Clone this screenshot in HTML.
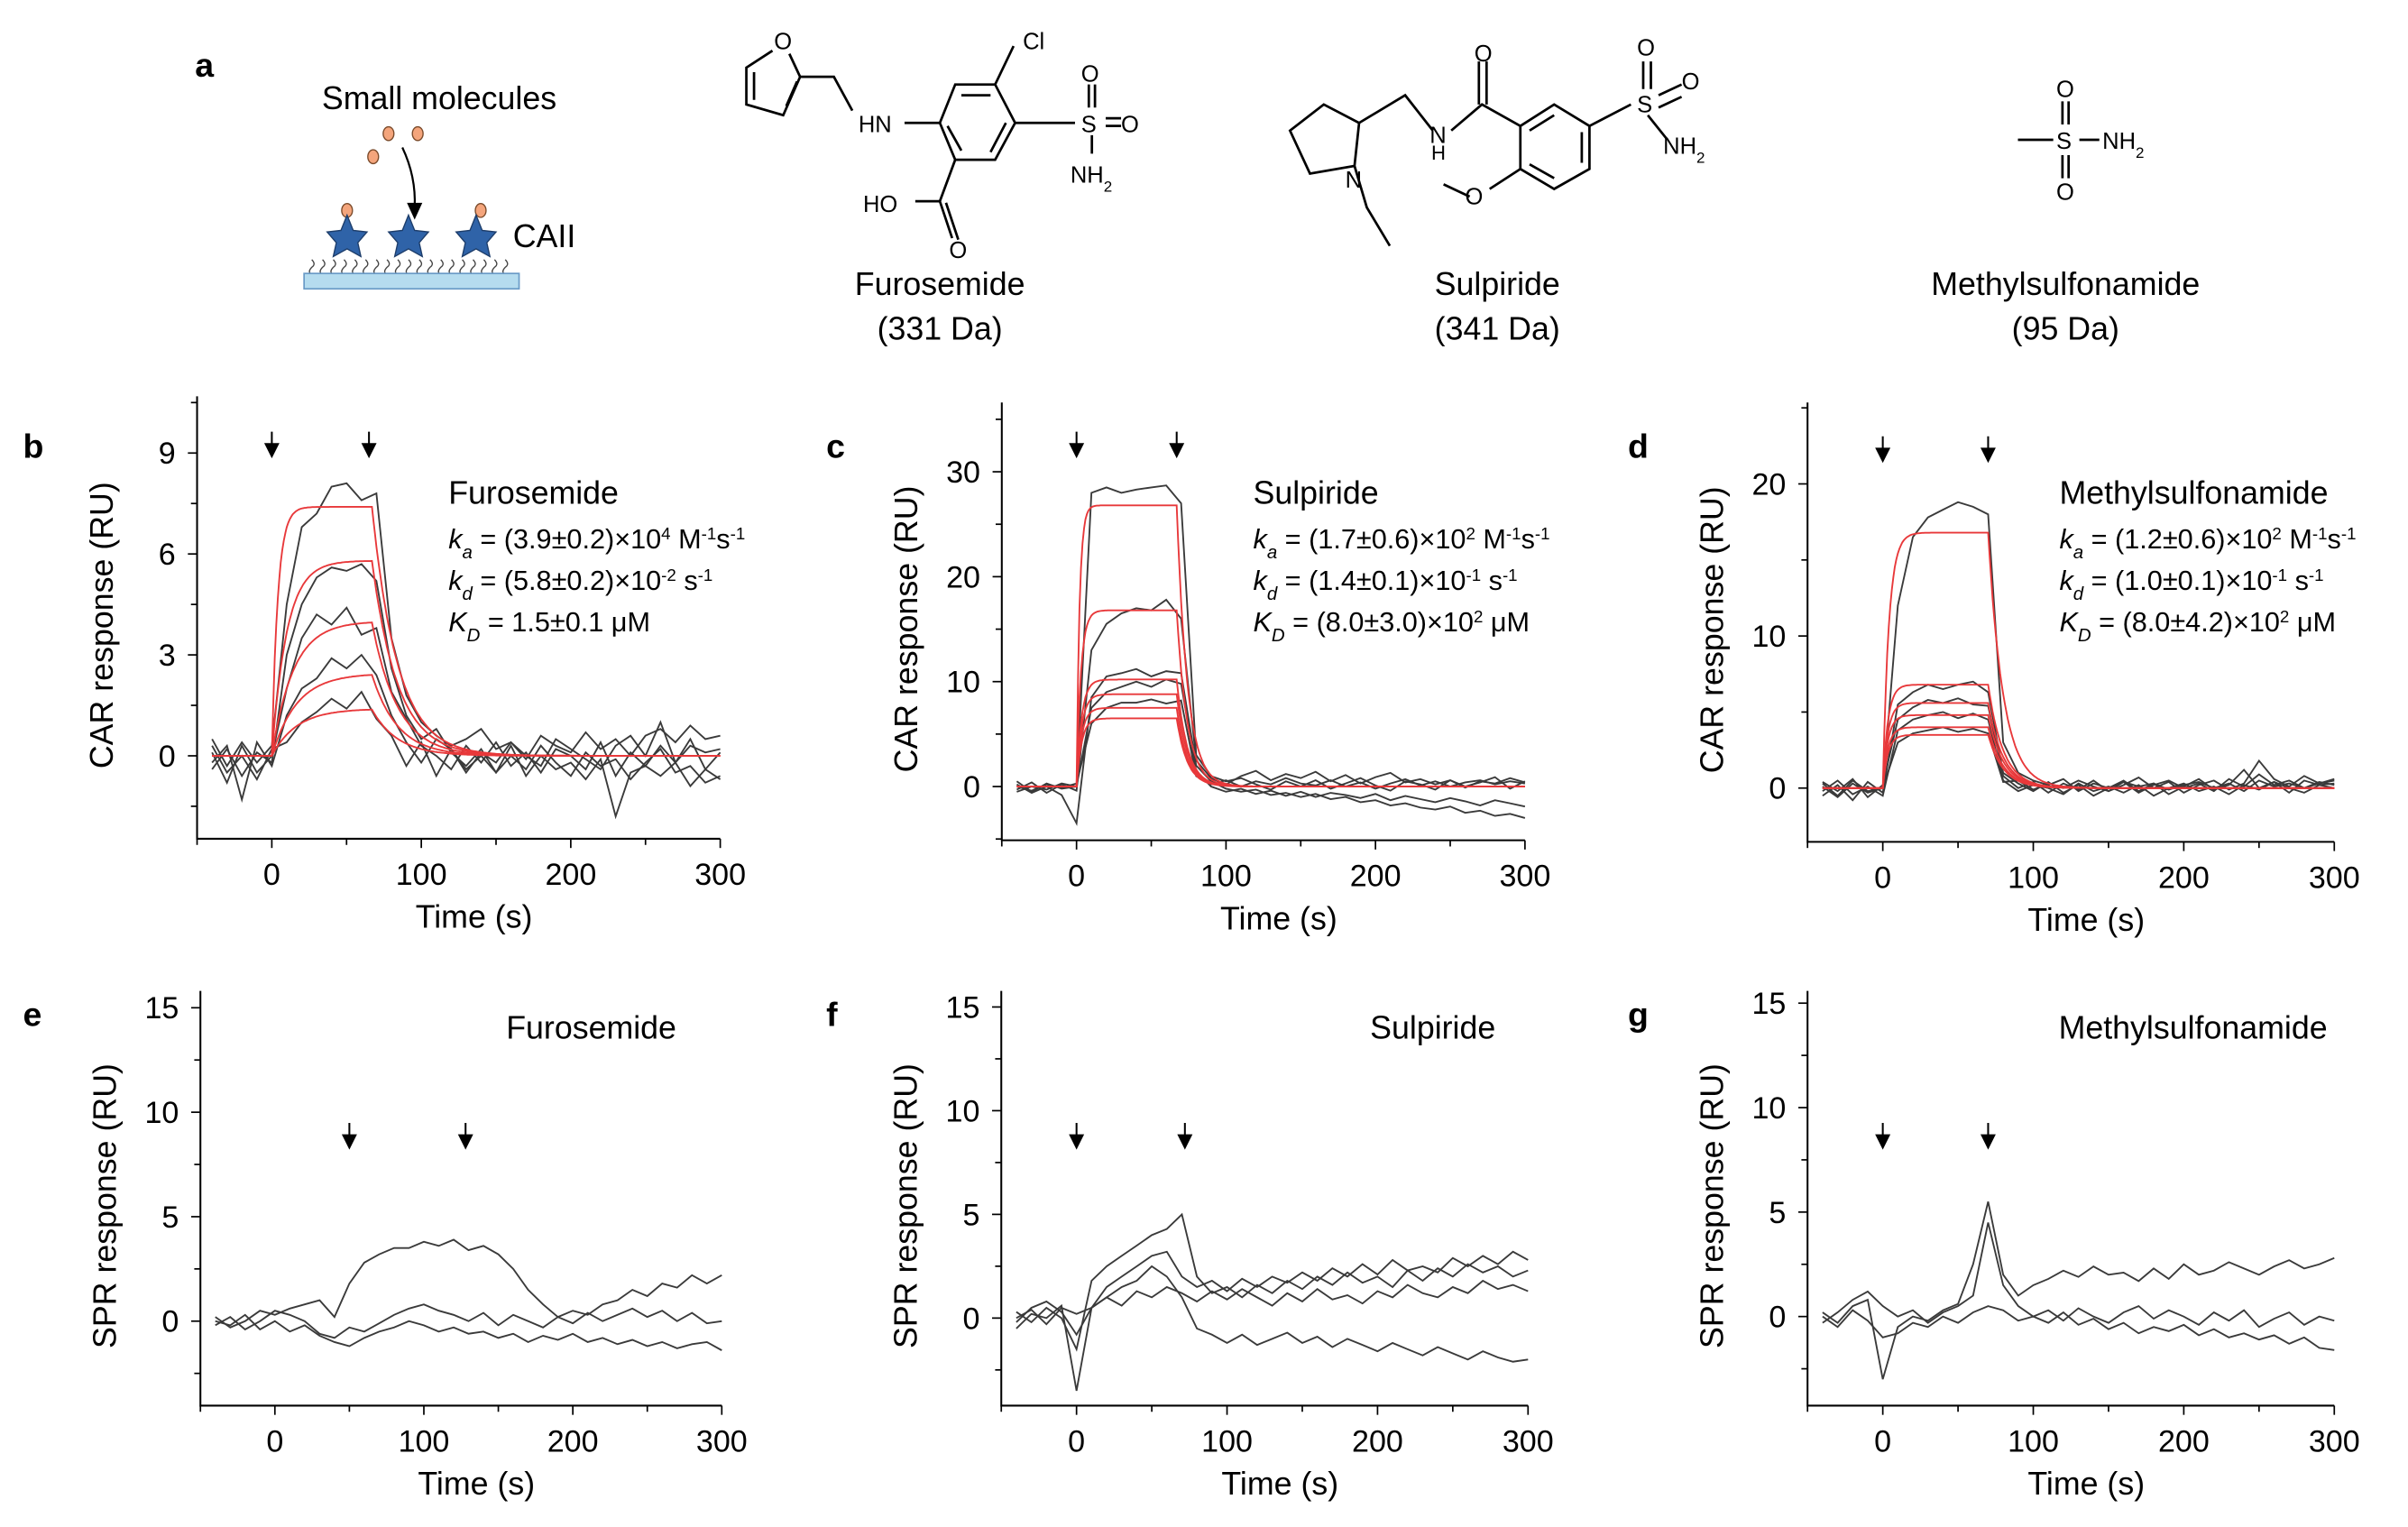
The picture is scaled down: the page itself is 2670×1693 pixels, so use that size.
<!DOCTYPE html>
<html><head><meta charset="utf-8"><style>
html,body{margin:0;padding:0;background:#fff}
svg{display:block}
text{font-family:"Liberation Sans",Arial,sans-serif}
</style></head><body>
<svg id="fig" width="2670" height="1693" viewBox="0 0 1568 994" preserveAspectRatio="none" xmlns="http://www.w3.org/2000/svg">
<g id="panel-a" fill="none" stroke="#000" stroke-width="1.6">
  <text x="127" y="50" font-size="22" font-weight="bold" fill="#000" stroke="none">a</text>
  <text x="286" y="71" font-size="21" text-anchor="middle" fill="#000" stroke="none">Small molecules</text>
  <g fill="#f4a57c" stroke="#7a4a2a" stroke-width="0.8">
    <ellipse cx="253" cy="87" rx="3.5" ry="4.5"/><ellipse cx="272" cy="87" rx="3.5" ry="4.5"/><ellipse cx="243" cy="102" rx="3.5" ry="4.5"/>
    <ellipse cx="226" cy="137" rx="3.5" ry="4.5"/><ellipse cx="313" cy="137" rx="3.5" ry="4.5"/>
  </g>
  <path d="M262 96 Q271 115 270 135" stroke-width="1.3"/>
  <path d="M265 132 L275 132 L270 143 Z" fill="#000" stroke="none"/>
  <g fill="#2f63a8" stroke="#1d3d6a" stroke-width="0.8">
    <path d="M226 140 L230 150 L239 151 L233 158 L235 167 L226 162 L217 167 L219 158 L213 151 L222 150 Z"/>
    <path d="M266 140 L270 150 L279 151 L273 158 L275 167 L266 162 L257 167 L259 158 L253 151 L262 150 Z"/>
    <path d="M310 140 L314 150 L323 151 L317 158 L319 167 L310 162 L301 167 L303 158 L297 151 L306 150 Z"/>
  </g>
  <g stroke="#444" stroke-width="0.8">
    <path d="M203 169 q3 3 0 5 q-3 3 0 5 M210 169 q3 3 0 5 q-3 3 0 5 M217 169 q3 3 0 5 q-3 3 0 5 M224 169 q3 3 0 5 q-3 3 0 5 M231 169 q3 3 0 5 q-3 3 0 5 M238 169 q3 3 0 5 q-3 3 0 5 M245 169 q3 3 0 5 q-3 3 0 5 M252 169 q3 3 0 5 q-3 3 0 5 M259 169 q3 3 0 5 q-3 3 0 5 M266 169 q3 3 0 5 q-3 3 0 5 M273 169 q3 3 0 5 q-3 3 0 5 M280 169 q3 3 0 5 q-3 3 0 5 M287 169 q3 3 0 5 q-3 3 0 5 M294 169 q3 3 0 5 q-3 3 0 5 M301 169 q3 3 0 5 q-3 3 0 5 M308 169 q3 3 0 5 q-3 3 0 5 M315 169 q3 3 0 5 q-3 3 0 5 M322 169 q3 3 0 5 q-3 3 0 5 M329 169 q3 3 0 5 q-3 3 0 5"/>
  </g>
  <rect x="198" y="178" width="140" height="10" fill="#b5dcef" stroke="#6a9bc7" stroke-width="1"/>
  <text x="334" y="161" font-size="21" fill="#000" stroke="none">CAII</text>

  <g>
    <path d="M503 33 L486 44 L486 68 L510 75 L521 50 L514 35 M491 47 L491 65 M512 69 L519 53"/>
    <path d="M521 50 L543 50 L555 72"/>
    <path d="M589 80 L612 80 M612 80 L622 55 L648 55 L661 80 L648 104 L622 104 Z M626 62 L645 62 M655 80 L645 99 M626 98 L617 82"/>
    <path d="M648 55 L660 30 M661 80 L700 80 M622 104 L612 131 L596 131 M612 131 L620 155 M616 132 L624 156"/>
    <path d="M709 55 L709 70 M713 55 L713 70 M720 77 L730 77 M720 82 L730 82 M711 88 L711 100"/>
  </g>
  <g font-size="15" fill="#000" stroke="none">
    <text x="504" y="32">O</text><text x="666" y="32">Cl</text><text x="559" y="86">HN</text>
    <text x="704" y="53">O</text><text x="704" y="86">S</text><text x="730" y="86">O</text><text x="697" y="119">NH<tspan font-size="10" baseline-shift="sub">2</tspan></text>
    <text x="562" y="138">HO</text><text x="618" y="168">O</text>
  </g>
  <text x="612" y="192" font-size="21" text-anchor="middle" fill="#000" stroke="none">Furosemide</text>
  <text x="612" y="221" font-size="21" text-anchor="middle" fill="#000" stroke="none">(331 Da)</text>

  <g>
    <path d="M840 85 L862 68 L885 80 L882 108 L853 113 Z M882 108 L890 135 L905 160 M885 80 L915 62 L933 85"/>
    <path d="M945 85 L965 68 L990 82 M963 68 L963 40 M968 68 L968 40"/>
    <path d="M990 82 L1012 68 L1035 82 L1035 110 L1012 123 L990 110 Z M996 85 L1012 75 M1030 86 L1030 106 M996 107 L1012 116"/>
    <path d="M1035 82 L1062 68 M990 110 L970 123 M957 128 L940 120 M1070 58 L1070 40 M1075 58 L1075 40 M1080 62 L1095 55 M1080 70 L1095 63 M1073 75 L1085 90"/>
  </g>
  <g font-size="15" fill="#000" stroke="none">
    <text x="876" y="122">N</text><text x="931" y="93">N</text><text x="932" y="104" font-size="13">H</text>
    <text x="960" y="40">O</text><text x="954" y="133">O</text><text x="1066" y="73">S</text>
    <text x="1066" y="36">O</text><text x="1095" y="58">O</text><text x="1083" y="100">NH<tspan font-size="10" baseline-shift="sub">2</tspan></text>
  </g>
  <text x="975" y="192" font-size="21" text-anchor="middle" fill="#000" stroke="none">Sulpiride</text>
  <text x="975" y="221" font-size="21" text-anchor="middle" fill="#000" stroke="none">(341 Da)</text>

  <g>
    <path d="M1314 91 L1337 91 M1343 66 L1343 81 M1347 66 L1347 81 M1343 101 L1343 116 M1347 101 L1347 116 M1354 91 L1367 91"/>
  </g>
  <g font-size="15" fill="#000" stroke="none">
    <text x="1339" y="63">O</text><text x="1339" y="97">S</text><text x="1339" y="130">O</text><text x="1369" y="97">NH<tspan font-size="10" baseline-shift="sub">2</tspan></text>
  </g>
  <text x="1345" y="192" font-size="21" text-anchor="middle" fill="#000" stroke="none">Methylsulfonamide</text>
  <text x="1345" y="221" font-size="21" text-anchor="middle" fill="#000" stroke="none">(95 Da)</text>
</g>
<g id="charts"></g>
</svg>
<script>
// ---------- data ----------
const times = [-40,-30,-20,-10,0,10,20,30,40,50,60,70,80,90,100,110,120,130,140,150,160,170,180,190,200,210,220,230,240,250,260,270,280,290,300];

const tracesB = [
 [0.5,-0.3,0.4,-0.2,0.3,4.5,6.8,7.2,8.0,8.1,7.6,7.8,3.5,1.8,1.0,0.6,0.3,0.5,0.8,0.2,0.4,-0.1,0.6,0.3,0.1,0.7,0.2,0.5,0.0,0.6,0.8,0.4,0.9,0.5,0.6],
 [-0.4,0.2,-0.6,0.1,-0.2,3.0,4.5,5.3,5.6,5.5,5.7,5.2,2.6,1.2,0.5,0.8,0.1,-0.3,0.2,-0.5,0.0,-0.4,0.3,-0.2,-0.6,0.1,-0.3,-0.1,-0.7,-0.2,0.2,-0.5,-0.3,-0.8,-0.6],
 [0.1,-0.8,0.3,-0.5,0.0,2.0,3.5,4.2,3.9,4.4,3.6,3.8,1.9,1.1,0.3,0.0,-0.4,0.3,-0.2,0.4,-0.3,0.1,-0.5,0.2,0.0,-0.4,0.4,-0.6,0.1,-0.3,0.3,-0.2,0.5,-0.4,0.1],
 [-0.2,0.3,-1.3,0.4,-0.3,1.2,2.0,2.3,2.9,2.6,3.0,2.4,1.2,0.4,-0.2,0.5,0.2,-0.5,0.1,-0.2,0.4,0.0,-0.3,0.5,0.2,-0.1,-0.4,0.3,0.6,0.0,1.0,-0.2,0.3,0.1,0.2],
 [0.3,-0.5,0.0,-0.7,0.2,0.4,1.0,1.3,1.7,1.4,1.9,1.1,0.6,-0.3,0.4,-0.6,0.2,-0.4,0.0,-0.5,0.3,-0.6,0.0,-0.4,-0.2,-0.7,-0.1,-1.8,-0.5,-0.3,-0.6,-0.2,-0.9,-0.4,-0.7]];
const fitPlateauB = [7.4,5.8,4.0,2.45,1.4];
const fitKobsB = [0.25,0.1,0.07,0.06,0.06];
const fitKdB = 0.058, injEndB = 67;

const tracesC = [
 [0.5,-0.5,0.3,-0.2,0.0,28,28.5,28,28.3,28.5,28.7,27,3,1,0.5,0.8,0.2,-0.3,0.5,0.0,0.6,-0.2,0.3,0.8,0.1,-0.4,0.5,0.2,-0.3,0.6,0.0,0.4,0.9,-0.2,0.5],
 [-0.3,0.4,-0.6,0.2,-0.4,13,15.5,16.5,17,16.8,17.8,16,2.5,0.8,0.2,1.0,1.5,0.6,1.2,0.8,1.4,0.5,1.1,0.3,0.9,1.3,0.4,0.7,0.2,0.6,-0.1,0.5,0.3,0.8,0.4],
 [0.2,-0.6,0.0,-0.8,-3.5,8.5,10.5,10.8,11.2,10.5,11,10.8,2,0.5,-0.2,-0.5,-0.3,-0.8,-0.6,-1.0,-0.7,-1.2,-1.0,-1.5,-1.3,-1.8,-1.6,-2.0,-2.2,-1.9,-2.5,-2.3,-2.8,-2.6,-3.0],
 [-0.5,0.0,-0.3,0.3,0.0,7.5,9,9.5,10,9.5,10.2,9.8,1.5,0.0,-0.5,-0.2,-0.7,-0.4,-0.9,-0.5,-1.0,-0.6,-0.8,-1.1,-0.7,-1.3,-0.9,-1.2,-1.5,-1.1,-1.4,-1.8,-1.3,-1.6,-1.9],
 [0.0,-0.4,0.2,-0.1,0.3,6,7.5,8,8,8.3,7.9,8.2,1,0.2,0.6,0.0,0.5,0.2,0.8,0.3,0.1,0.6,0.0,0.4,-0.2,0.3,0.7,0.1,0.5,0.0,0.4,0.6,0.2,0.5,0.3]];
const fitPlateauC = [26.8,16.8,10.2,8.8,7.5,6.5];
const fitKobsC = [0.5,0.35,0.3,0.3,0.3,0.3];
const fitKdC = 0.14, injEndC = 67;

const tracesD = [
 [0.3,-0.5,0.5,-0.2,0.0,12,16.5,17.8,18.3,18.8,18.5,18,3,1,0.5,0.2,0.6,-0.2,0.3,0.0,0.4,-0.3,0.2,0.5,0.0,0.3,-0.2,0.6,0.1,0.9,0.2,0.5,0.0,0.3,0.6],
 [-0.5,0.2,-0.8,0.4,-0.3,5.5,6.3,6.8,6.5,6.8,7,6.3,1,0.3,-0.2,0.4,-0.3,0.2,-0.5,0.0,0.5,-0.2,0.3,-0.4,0.1,0.6,-0.1,0.2,1.2,0.0,0.4,-0.3,0.5,0.2,0.3],
 [0.4,-0.2,0.6,-0.6,0.2,4.5,5.3,5.8,5.6,5.9,5.5,5.4,0.8,0.0,0.4,-0.3,0.3,-0.1,0.5,-0.2,0.2,0.7,0.0,0.4,-0.3,0.2,0.5,-0.1,0.3,1.8,0.6,0.1,0.8,0.3,0.5],
 [-0.2,0.5,-0.4,0.1,-0.5,3.8,4.5,4.8,5,4.6,4.9,4.5,0.5,-0.2,0.2,0.0,-0.4,0.3,-0.2,0.1,-0.3,0.2,-0.5,0.0,0.3,-0.2,0.1,-0.4,0.2,-0.1,0.4,0.0,-0.3,0.2,0.0],
 [0.1,-0.6,0.3,-0.3,0.0,3,3.6,3.8,4,3.7,3.9,3.6,0.4,0.5,-0.1,0.3,0.0,0.5,0.1,-0.2,0.4,0.1,0.3,-0.1,0.2,0.4,0.0,0.3,-0.2,0.5,0.1,0.3,0.0,0.4,0.2]];
const fitPlateauD = [16.8,6.8,5.6,4.8,4.0,3.5];
const fitKobsD = [0.25,0.3,0.3,0.3,0.3,0.3];
const fitKdD = 0.1, injEndD = 70;

const tracesE = [
 [0.2,-0.3,0.0,0.5,0.3,0.6,0.8,1.0,0.2,1.8,2.8,3.2,3.5,3.5,3.8,3.6,3.9,3.4,3.6,3.2,2.5,1.5,0.8,0.2,0.5,0.3,0.8,1.0,1.5,1.2,1.8,1.6,2.2,1.8,2.2],
 [-0.2,0.2,-0.4,0.0,0.5,0.3,0.0,-0.6,-0.8,-0.3,-0.5,-0.1,0.3,0.6,0.8,0.5,0.3,0.0,0.4,-0.2,0.3,0.0,-0.3,0.2,-0.1,0.4,0.0,0.3,0.6,0.2,0.5,0.0,0.4,-0.1,0.0],
 [0.0,-0.2,0.3,-0.4,0.0,-0.5,-0.2,-0.7,-1.0,-1.2,-0.8,-0.5,-0.3,0.0,-0.2,-0.5,-0.3,-0.6,-0.5,-0.8,-0.6,-1.0,-0.7,-0.9,-0.6,-1.0,-0.8,-1.1,-0.9,-1.2,-1.0,-1.3,-1.1,-1.0,-1.4]];
const tracesF = [
 [-0.5,0.2,0.0,0.6,-3.5,0.5,1.5,2.0,2.5,3.0,3.2,2.0,1.5,1.8,1.3,1.9,1.5,2.0,1.7,2.2,1.8,2.4,2.0,2.6,2.1,2.8,2.3,2.5,2.2,2.9,2.5,3.0,2.6,3.2,2.8],
 [0.3,-0.2,0.5,0.0,-1.5,1.8,2.5,3.0,3.5,4.0,4.3,5,2.0,1.2,1.5,1.0,1.6,1.2,1.8,1.4,2.0,1.6,2.2,1.7,2.0,1.5,2.3,1.8,2.4,2.0,2.6,2.2,2.5,2.0,2.3],
 [-0.2,0.5,0.8,0.3,-0.8,0.5,1.0,1.5,1.8,2.5,2.0,1.0,-0.5,-0.8,-1.2,-0.8,-1.3,-1.0,-0.7,-1.2,-0.9,-1.4,-1.0,-1.3,-1.6,-1.2,-1.5,-1.8,-1.4,-1.7,-2.0,-1.6,-1.9,-2.1,-2.0],
 [0.0,0.4,-0.3,0.5,0.2,0.5,1.0,0.6,1.3,1.0,1.5,1.2,0.8,1.3,0.9,1.4,1.0,0.6,1.2,0.8,1.4,0.9,1.1,0.7,1.3,1.0,1.6,1.2,1.0,1.5,1.2,1.8,1.4,1.6,1.3]];
const tracesG = [
 [0.2,-0.3,0.5,0.8,-3.0,-0.5,0.0,-0.2,0.3,0.6,2.5,5.5,2.0,1.0,1.5,1.8,2.2,1.9,2.4,2.0,2.1,1.7,2.3,1.8,2.5,2.0,2.2,2.6,2.3,2.0,2.4,2.7,2.3,2.5,2.8],
 [-0.3,0.2,0.8,1.2,0.5,0.0,0.3,-0.3,0.2,0.5,1.0,4.5,1.5,0.5,0.0,0.3,-0.2,0.4,0.0,-0.3,0.2,0.5,-0.1,0.3,0.0,-0.4,0.2,-0.2,0.3,-0.5,-0.1,0.2,-0.4,0.0,-0.2],
 [0.0,-0.5,0.3,-0.2,-1.0,-0.8,-0.3,-0.5,0.0,-0.3,0.2,0.5,0.3,-0.2,0.0,-0.3,0.2,-0.4,-0.1,-0.6,-0.3,-0.8,-0.5,-0.7,-0.4,-0.9,-0.6,-1.0,-0.8,-1.1,-0.9,-1.3,-1.0,-1.5,-1.6]];

const xTicks = [0,100,200,300];
const yTicksB = [0,3,6,9], yTicksC = [0,10,20,30], yTicksD = [0,10,20], yTicksSPR = [0,5,10,15];
const arrowsB = [0,65], arrowsC = [0,67], arrowsD = [0,70], arrowsE = [50,128], arrowsF = [0,72], arrowsG = [0,70];

// ---------- drawing ----------
const NS = "http://www.w3.org/2000/svg";
const root = document.getElementById("charts");
function mk(tag, attrs, parent){ const e=document.createElementNS(NS,tag); for(const k in attrs) e.setAttribute(k,attrs[k]); parent.appendChild(e); return e; }

function panel(cfg){
  const g = mk("g",{},root);
  
  
  const sx = t => cfg.px0 + (t)*(cfg.px300-cfg.px0)/300;
  const sy = v => cfg.y0 - v*cfg.yPer;
  const left = sx(-50), right = sx(300);
  const ax = mk("path",{d:`M${left} ${cfg.top} L${left} ${cfg.axY} L${right} ${cfg.axY}`,fill:"none",stroke:"#000","stroke-width":1.2},g);
  
  
  for(let t=-50;t<=300;t+=50){ mk("line",{x1:sx(t),x2:sx(t),y1:cfg.axY,y2:cfg.axY+(t%100===0?6:4),stroke:"#000","stroke-width":1},g); }
  xTicks.forEach(t=>{
    const tx = mk("text",{x:sx(t),y:cfg.axY+30,"font-size":20,"text-anchor":"middle"},g); tx.textContent=t;
    
    
  });
  const yMin = (cfg.y0-cfg.axY)/cfg.yPer, yMax=(cfg.y0-cfg.top)/cfg.yPer;
  for(let v=Math.ceil(yMin/cfg.minor)*cfg.minor; v<=yMax; v+=cfg.minor){
    const major = cfg.yTicks.some(k=>Math.abs(k-v)<1e-6);
    mk("line",{x1:left-(major?6:4),x2:left,y1:sy(v),y2:sy(v),stroke:"#000","stroke-width":1},g);
  }
  cfg.yTicks.forEach(v=>{
    const ty = mk("text",{x:left-14,y:sy(v)+7,"font-size":20,"text-anchor":"end"},g); ty.textContent=v;
    
    
  });
  const xt = mk("text",{x:(left+right)/2+10,y:cfg.axY+58,"font-size":21,"text-anchor":"middle"},g); xt.textContent="Time (s)";
  
  
  const yc = (cfg.top+cfg.axY)/2+5;
  const yt = mk("text",{x:left-55,y:yc,"font-size":21,"text-anchor":"middle",transform:`rotate(-90 ${left-55} ${yc})`},g); yt.textContent=cfg.ytitle;
  
  
  const pl = mk("text",{x:cfg.lx,y:cfg.ly,"font-size":22,"font-weight":"bold"},g); pl.textContent=cfg.letter;
  
  
  cfg.traces.forEach((tr,i)=>{
    const d = tr.map((v,j)=>(j?"L":"M")+sx(times[j]).toFixed(1)+" "+sy(v).toFixed(1)).join(" ");
    const p = mk("path",{d:d,fill:"none",stroke:"#3a3a3a","stroke-width":1.1},g);
    
    
  });
  if(cfg.plateaus){
    cfg.plateaus.forEach((P,i)=>{
      const k = cfg.kobs[i]; let pts=[];
      const Rend = P*(1-Math.exp(-k*cfg.tEnd));
      for(let t=-40;t<=300;t+=1){
        let r = t<0?0:(t<=cfg.tEnd? P*(1-Math.exp(-k*t)) : Rend*Math.exp(-cfg.kd*(t-cfg.tEnd)));
        pts.push((pts.length?"L":"M")+sx(t).toFixed(1)+" "+sy(r).toFixed(1));
      }
      const f = mk("path",{d:pts.join(" "),fill:"none",stroke:"#e8383a","stroke-width":1.1},g);
      
      
    });
  }
  cfg.arrows.forEach(t=>{
    const a = mk("path",{d:`M${sx(t)} ${cfg.arY} L${sx(t)} ${cfg.arY+14} M${sx(t)-4} ${cfg.arY+8} L${sx(t)+4} ${cfg.arY+8} L${sx(t)} ${cfg.arY+16} Z`,stroke:"#000","stroke-width":1.2,fill:"#000"},g);
    
    
  });
  if(cfg.kin){
    const n = mk("text",{x:cfg.tx,y:cfg.ty,"font-size":21},g); n.textContent=cfg.name;
    
    
    cfg.kin.forEach((html,i)=>{
      const k = mk("text",{x:cfg.tx,y:cfg.ty+29+i*27,"font-size":18},g);
      k.innerHTML = html;
      
      
    });
  } else {
    const n = mk("text",{x:cfg.tx,y:cfg.ty,"font-size":21,"text-anchor":"middle"},g); n.textContent=cfg.name;
    
    
  }
}
const sup = s=>`<tspan baseline-shift="super" font-size="11">${s}</tspan>`;
const sub = s=>`<tspan baseline-shift="sub" font-size="12" font-style="italic">${s}</tspan>`;
function kinLines(ka,kaExp,kd,kdExp,KD){
  return [`<tspan font-style="italic">k</tspan>${sub('a')}<tspan> = ${ka}×10</tspan>${sup(kaExp)}<tspan> M</tspan>${sup('-1')}<tspan>s</tspan>${sup('-1')}`,
          `<tspan font-style="italic">k</tspan>${sub('d')}<tspan> = ${kd}×10</tspan>${sup(kdExp)}<tspan> s</tspan>${sup('-1')}`,
          `<tspan font-style="italic">K</tspan>${sub('D')}<tspan> = ${KD}</tspan>`];
}

panel({letter:"b",px0:177,px300:469,axY:546,top:258,y0:492,yPer:21.9,yTicks:yTicksB,minor:1.5,ytitle:"CAR response (RU)",lx:15,ly:298,
  traces:tracesB,plateaus:fitPlateauB,kobs:fitKobsB,kd:fitKdB,tEnd:injEndB,arrows:arrowsB,arY:281,name:"Furosemide",tx:292,ty:328,
  kin:kinLines("(3.9±0.2)","4","(5.8±0.2)","-2","1.5±0.1 μM")});
panel({letter:"c",px0:701,px300:993,axY:547,top:262,y0:512,yPer:6.83,yTicks:yTicksC,minor:5,ytitle:"CAR response (RU)",lx:538,ly:298,
  traces:tracesC,plateaus:fitPlateauC,kobs:fitKobsC,kd:fitKdC,tEnd:injEndC,arrows:arrowsC,arY:281,name:"Sulpiride",tx:816,ty:328,
  kin:kinLines("(1.7±0.6)","2","(1.4±0.1)","-1","(8.0±3.0)×10"+sup("2")+"<tspan> μM</tspan>")});
panel({letter:"d",px0:1226,px300:1520,axY:548,top:262,y0:513,yPer:9.9,yTicks:yTicksD,minor:5,ytitle:"CAR response (RU)",lx:1060,ly:298,
  traces:tracesD,plateaus:fitPlateauD,kobs:fitKobsD,kd:fitKdD,tEnd:injEndD,arrows:arrowsD,arY:284,name:"Methylsulfonamide",tx:1341,ty:328,
  kin:kinLines("(1.2±0.6)","2","(1.0±0.1)","-1","(8.0±4.2)×10"+sup("2")+"<tspan> μM</tspan>")});
panel({letter:"e",px0:179,px300:470,axY:915,top:645,y0:860,yPer:13.6,yTicks:yTicksSPR,minor:2.5,ytitle:"SPR response (RU)",lx:15,ly:668,
  traces:tracesE,arrows:arrowsE,arY:731,name:"Furosemide",tx:385,ty:676});
panel({letter:"f",px0:701,px300:995,axY:915,top:645,y0:858,yPer:13.5,yTicks:yTicksSPR,minor:2.5,ytitle:"SPR response (RU)",lx:538,ly:668,
  traces:tracesF,arrows:arrowsF,arY:731,name:"Sulpiride",tx:933,ty:676});
panel({letter:"g",px0:1226,px300:1520,axY:915,top:645,y0:857,yPer:13.6,yTicks:yTicksSPR,minor:2.5,ytitle:"SPR response (RU)",lx:1060,ly:668,
  traces:tracesG,arrows:arrowsG,arY:731,name:"Methylsulfonamide",tx:1428,ty:676});
</script>
</body></html>
